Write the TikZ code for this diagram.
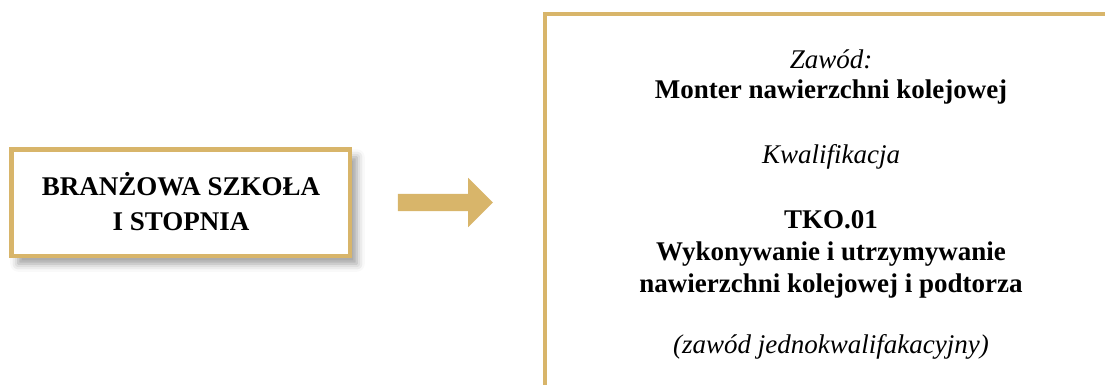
\documentclass[tikz,border=0pt]{standalone}
\usepackage{fontspec}
\setmainfont{Liberation Serif}
\usetikzlibrary{shapes.arrows,shadows.blur}
\definecolor{gold}{RGB}{216,181,106}
\tikzset{
  goldline/.style={draw=gold,line width=4.5pt},
  schoolbox/.style={goldline,fill=white,rectangle,inner sep=0pt,
    minimum width=338.5pt,minimum height=106.5pt,
    blur shadow={shadow xshift=7pt,shadow yshift=-8pt,shadow blur radius=8pt,shadow opacity=40}},
  bigarrow/.style={single arrow,fill=gold,draw=none,inner xsep=0pt,inner ysep=8.5pt,
    minimum width=49pt,minimum height=95pt,single arrow head extend=16pt,
    single arrow tip angle=90},
  boldtxt/.style={anchor=base,inner sep=0pt,font=\fontsize{27}{32}\selectfont\bfseries},
  itatxt/.style={anchor=base,inner sep=0pt,font=\fontsize{27}{32}\selectfont\itshape},
}
\begin{document}
\begin{tikzpicture}[x=1pt,y=-1pt]
\useasboundingbox (0,0) rectangle (1105,385);
\node[schoolbox] (school) at (180.5,202.5) {};
\node[boldtxt] (s1) at (181,195) {BRANŻOWA SZKOŁA};
\node[boldtxt] (s2) at (181,230) {I STOPNIA};
\node[bigarrow] (arr) at (441,202.5) {};
\coordinate (tr) at (1110,14);
\coordinate (tl) at (545,14);
\coordinate (bl) at (545,390);
\draw[goldline] (tr) -- (tl) -- (bl);
\node[itatxt] (z1) at (831,69) {Zawód:};
\node[boldtxt] (z2) at (831,99) {Monter nawierzchni kolejowej};
\node[itatxt] (k1) at (831,163) {Kwalifikacja};
\node[boldtxt] (k2) at (831,228) {TKO.01};
\node[boldtxt] (k3) at (831,260) {Wykonywanie i utrzymywanie};
\node[boldtxt] (k4) at (831,292) {nawierzchni kolejowej i podtorza};
\node[itatxt] (k5) at (831,353) {(zawód jednokwalifakacyjny)};
\end{tikzpicture}
\end{document}
